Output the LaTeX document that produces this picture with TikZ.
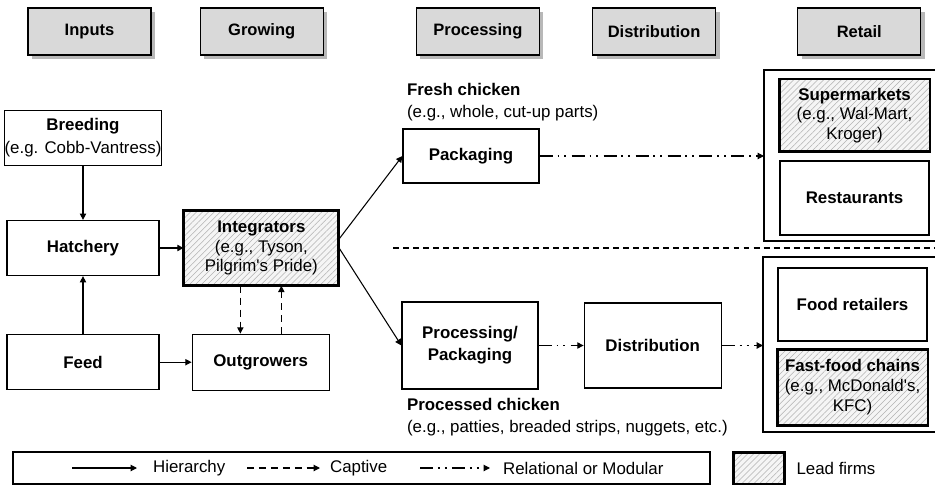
\documentclass[tikz,border=0pt]{standalone}
\usepackage{fontspec}
\setmainfont{Liberation Sans}
\usetikzlibrary{positioning, arrows.meta, calc, shadows, patterns.meta}

\tikzset{
  stage/.style={draw, line width=0.7pt, fill=gray!30, minimum width=2.46cm, minimum height=0.94cm, inner sep=0pt,
    font=\fontsize{9.4}{11}\selectfont\bfseries,
    drop shadow={shadow xshift=0.08cm, shadow yshift=-0.08cm, fill=gray!70, opacity=0.8}},
  box/.style={draw, line width=0.7pt, fill=white, inner sep=0pt, align=center},
  lead/.style={draw, line width=1.7pt, inner sep=0pt, align=center, preaction={fill=gray!8},
    pattern={Lines[angle=45, distance=2.4pt, line width=0.3pt]}, pattern color=gray!60},
  hier/.style={-{Triangle[length=3.6pt, width=3.6pt]}, line width=0.6pt},
  capt/.style={hier, dash pattern=on 4pt off 2.8pt},
  rel/.style={hier, dash pattern=on 7.4pt off 2.8pt on 1.1pt off 2.8pt on 1.1pt off 3pt},
  lbl/.style={inner sep=1pt}
}

\begin{document}
\begin{tikzpicture}[x=0.02cm, y=-0.02cm, every node/.style={font=\fontsize{9.6}{11.2}\selectfont}]

\useasboundingbox (0,0) rectangle (935,486);

% Stages (top)
\node (inputs) [stage] at (89.5,31.5) {Inputs};
\node (growing) [stage, right=0.96cm of inputs] {Growing};
\node (processing) [stage, right=1.84cm of growing] {Processing};
\node (distrib) [stage, right=1.04cm of processing] {Distribution};
\node (retail) [stage, right=1.62cm of distrib] {Retail};

% Inputs and growing
\node (hatchery) [box, minimum width=3.04cm, minimum height=1.1cm] at (83,248) {\textbf{Hatchery}};
\node (breeding) [box, minimum width=3.04cm, minimum height=1.1cm, above=1.08cm of hatchery] {\textbf{Breeding}\\[1.5pt](e.g. Cobb-Vantress)};
\node (feed) [box, minimum width=3.04cm, minimum height=1.1cm, below=1.16cm of hatchery] {\textbf{Feed}};
\node (integrators) [lead, minimum width=3.1cm, minimum height=1.5cm, right=0.48cm of hatchery] {\textbf{Integrators}\\(e.g., Tyson,\\Pilgrim\textquotesingle s Pride)};
\node (outgrowers) [box, minimum width=2.74cm, minimum height=1.12cm, right=0.64cm of feed] {\textbf{Outgrowers}};

% Processing
\node (fresh) [lbl, anchor=west, align=left, font=\fontsize{9.6}{12.5}\selectfont] at (405,102) {\textbf{Fresh chicken}\\(e.g., whole, cut-up parts)};
\node (packaging) [box, minimum width=2.72cm, minimum height=1.08cm] at (471,156) {\textbf{Packaging}};
\node (procpack) [box, minimum width=2.72cm, minimum height=1.74cm] at (470,345.5) {\textbf{Processing/}\\[1.5pt]\textbf{Packaging}};
\node (distribution) [box, minimum width=2.74cm, minimum height=1.7cm, right=0.9cm of procpack] {\textbf{Distribution}};
\node (processed) [lbl, anchor=west, align=left, font=\fontsize{9.6}{12.5}\selectfont] at (405,417.5) {\textbf{Processed chicken}\\(e.g., patties, breaded strips, nuggets, etc.)};

% Retail (frames run off the right edge)
\node (retailTop) [minimum width=3.42cm, minimum height=3.42cm, inner sep=0pt, outer sep=0pt] at (849.5,155.5) {};
\draw[line width=0.7pt] (retailTop.north east) -- (retailTop.north west) -- (retailTop.south west) -- (retailTop.south east);
\node (supermarkets) [lead, minimum width=3.02cm, minimum height=1.46cm] at (854.5,115.5) {\textbf{Supermarkets}\\(e.g., Wal-Mart,\\Kroger)};
\node (restaurants) [box, minimum width=2.98cm, minimum height=1.48cm, below=0.14cm of supermarkets] {\textbf{Restaurants}};

\node (retailBot) [minimum width=3.44cm, minimum height=3.5cm, inner sep=0pt, outer sep=0pt] at (849,344.5) {};
\draw[line width=0.7pt] (retailBot.north east) -- (retailBot.north west) -- (retailBot.south west) -- (retailBot.south east);
\node (foodret) [box, minimum width=2.98cm, minimum height=1.46cm] at (852.5,304.5) {\textbf{Food retailers}};
\node (fastfood) [lead, minimum width=3.02cm, minimum height=1.52cm, below=0.12cm of foodret] {\textbf{Fast-food chains}\\(e.g., McDonald\textquotesingle s,\\KFC)};

% Fresh / processed divider
\draw[line width=0.6pt, dash pattern=on 3.4pt off 2.3pt] (393,248) -- (935,248);

% Hierarchy arrows
\draw[hier] (breeding) -- (hatchery);
\draw[hier] (feed) -- (hatchery);
\draw[hier] (hatchery) -- (hatchery -| integrators.west);
\draw[hier] (feed) -- (outgrowers);
\draw[hier] ([yshift=0.18cm]integrators.east) -- (packaging.west);
\draw[hier] (integrators.east) -- (procpack.west);

% Captive arrows
\draw[capt] ([xshift=-0.42cm]integrators.south) -- ([xshift=-0.42cm]integrators.south |- outgrowers.north);
\draw[capt] ([xshift=0.4cm]integrators.south |- outgrowers.north) -- ([xshift=0.4cm]integrators.south);

% Relational arrows
\draw[rel] (packaging) -- (packaging -| retailTop.west);
\draw[rel] (procpack) -- (distribution);
\draw[rel] (distribution) -- (distribution -| retailBot.west);

% Legend
\node (legend) [box, minimum width=13.94cm, minimum height=0.64cm] at (361.5,468) {};
\coordinate (solA) at (72,468);
\coordinate (solB) at (137,468);
\draw[hier] (solA) -- (solB);
\node (hierLbl) [lbl, right=0.28cm of solB] {Hierarchy};
\coordinate (capA) at (247,468);
\coordinate (capB) at (320,468);
\draw[capt] (capA) -- (capB);
\node (captLbl) [lbl, right=0.16cm of capB] {Captive};
\coordinate (relA) at (420,468);
\coordinate (relB) at (490,468);
\draw[rel] (relA) -- (relB);
\node (relLbl) [lbl, right=0.22cm of relB] {Relational or Modular};
\node (leadkey) [lead, minimum width=1.02cm, minimum height=0.64cm] at (758.5,468) {};
\node (leadLbl) [lbl, right=0.18cm of leadkey] {Lead firms};

\end{tikzpicture}
\end{document}
